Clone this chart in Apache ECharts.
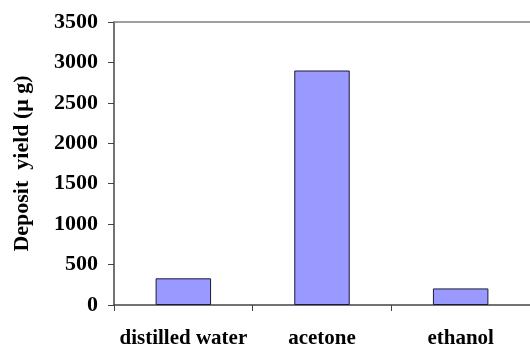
<!DOCTYPE html>
<html><head><meta charset="utf-8">
<script src="https://cdn.jsdelivr.net/npm/echarts@6/dist/echarts.min.js"></script>
<style>html,body{margin:0;padding:0;background:#fff}#c{width:530px;height:349px}</style>
</head><body><div id="c"></div>
<script>
const categories = ['distilled water', 'acetone', 'ethanol'];
const yieldValues = [330, 2900, 205];
const yTicks = [0, 500, 1000, 1500, 2000, 2500, 3000, 3500];

const font = 'Liberation Serif, Times New Roman, serif';
const chart = echarts.init(document.getElementById('c'));
chart.setOption({
  animation: false,
  grid: { left: 114, right: 0, top: 22, bottom: 42, containLabel: false },
  xAxis: [{
    type: 'category', data: categories,
    axisLine: { lineStyle: { color: '#444', width: 1.5 } },
    axisTick: { show: true, length: 6, lineStyle: { color: '#444' } },
    axisLabel: { interval: 0, fontFamily: font, fontWeight: 'bold', fontSize: 21, color: '#000', margin: 23 }
  }, {
    type: 'category', data: categories, position: 'top',
    axisLine: { lineStyle: { color: '#808080', width: 1.5 } },
    axisTick: { show: false }, axisLabel: { show: false }
  }],
  yAxis: {
    type: 'value', min: yTicks[0], max: yTicks[yTicks.length - 1], interval: 500,
    name: 'Deposit  yield (μ g)', nameLocation: 'middle', nameGap: 81,
    nameTextStyle: { fontFamily: font, fontWeight: 'bold', fontSize: 22, color: '#000' },
    axisLine: { show: true, lineStyle: { color: '#444', width: 1.5 } },
    axisTick: { show: true, length: 6, lineStyle: { color: '#444' } },
    splitLine: { show: false },
    axisLabel: { fontFamily: font, fontWeight: 'bold', fontSize: 22, color: '#000', margin: 16,
      formatter: v => String(v) }
  },
  series: [{
    type: 'bar', data: yieldValues, barWidth: '40%', xAxisIndex: 0,
    itemStyle: { color: '#9999FF', borderColor: '#1a1a33', borderWidth: 1 }
  }]
});
</script></body></html>
